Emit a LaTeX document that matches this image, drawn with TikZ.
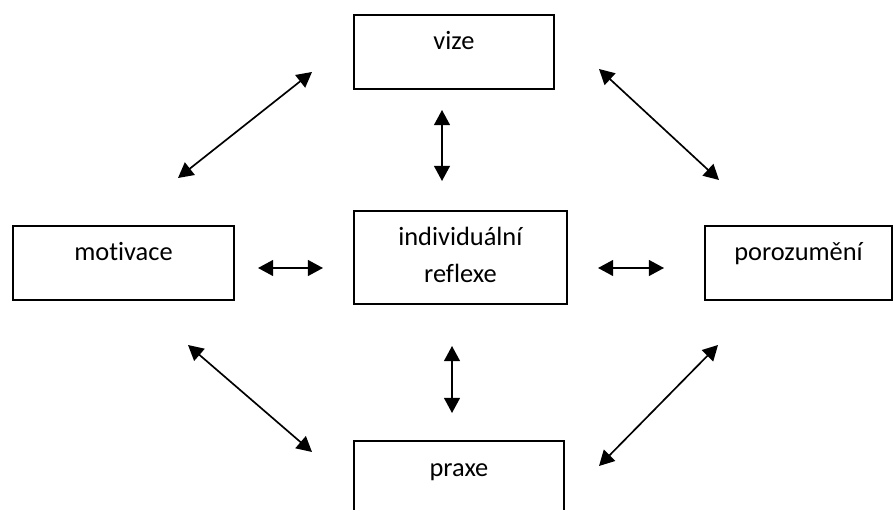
\documentclass[tikz,border=0pt]{standalone}
\usepackage{fontspec}
\setmainfont{Carlito}[Ligatures=NoCommon]
\usetikzlibrary{arrows.meta}
\tikzset{
  box/.style={draw, line width=0.8pt, inner sep=0pt, anchor=north west, align=center,
    text height=14.6pt, text depth=16.4pt, font=\fontsize{11}{15.4}\selectfont},
  link/.style={{Triangle[length=6.3pt,width=6.6pt]}-{Triangle[length=6.3pt,width=6.6pt]},
    line width=0.7pt}
}
\begin{document}
\begin{tikzpicture}[x=0.4167pt,y=-0.4167pt]
    \useasboundingbox (0,0) rectangle (893,510);
    \clip (0,0) rectangle (893,510);
    % Boxes
    \node[box,text width=83.3pt] (vize) at (353,14) {vize};
    \node[box,text width=88.7pt,text depth=24.2pt] (reflexe) at (353,210)
         {individuální\\reflexe};
    \node[box,text width=92.1pt] (motivace) at (12,225) {motivace};
    \node[box,text width=78pt] (porozumeni) at (704,225) {porozumění};
    \node[box,text width=87.5pt] (praxe) at (353,440) {praxe};
    % Arrow ends
    \coordinate (vm-a) at (312,72);  \coordinate (vm-b) at (178,178);
    \coordinate (vp-a) at (599,69);  \coordinate (vp-b) at (719,180);
    \coordinate (mx-a) at (188,345); \coordinate (mx-b) at (312,452);
    \coordinate (px-a) at (718,345); \coordinate (px-b) at (599,466);
    \coordinate (vr-a) at (442,110); \coordinate (vr-b) at (442,181);
    \coordinate (rx-a) at (452,346); \coordinate (rx-b) at (452,413);
    \coordinate (mr-a) at (258,268); \coordinate (mr-b) at (323,268);
    \coordinate (rp-a) at (598,268); \coordinate (rp-b) at (664,268);
    % Arrows
    \foreach \a in {vm,vp,mx,px,vr,rx,mr,rp}
      \draw[link] (\a-a) -- (\a-b);
\end{tikzpicture}
\end{document}
